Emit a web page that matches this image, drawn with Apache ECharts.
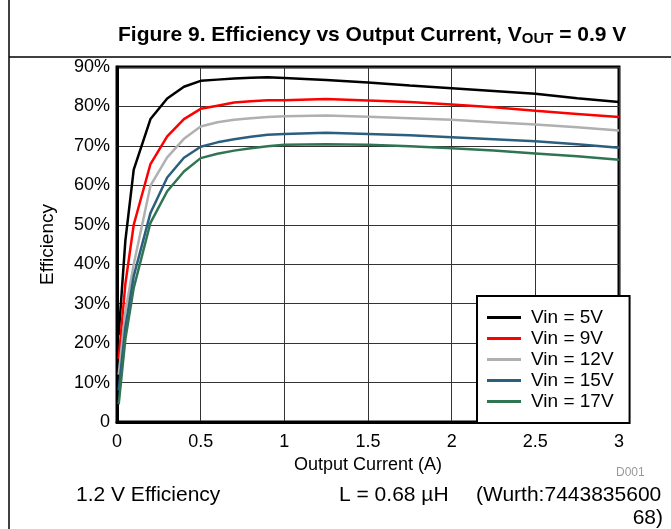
<!DOCTYPE html>
<html>
<head>
<meta charset="utf-8">
<style>html,body{margin:0;padding:0;background:#fff}#c{width:671px;height:529px}</style>
<script src="https://cdn.jsdelivr.net/npm/echarts@6/dist/echarts.min.js"></script>
</head>
<body>
<div id="c"></div>
<script>
var current = [0.01, 0.05, 0.1, 0.2, 0.3, 0.4, 0.5, 0.6, 0.7, 0.8, 0.9, 1.0, 1.25, 1.5, 1.75, 2.0, 2.25, 2.5, 2.75, 3.0];
var vin5  = [22, 46, 64, 76.8, 82, 85, 86.5, 86.8, 87.1, 87.3, 87.4, 87.2, 86.7, 86.1, 85.3, 84.6, 83.9, 83.2, 82.1, 81.1];
var vin9  = [16, 35, 50, 65.4, 72.4, 76.8, 79.4, 80.2, 81, 81.3, 81.6, 81.6, 81.9, 81.5, 81.1, 80.5, 79.8, 78.9, 78.1, 77.3];
var vin12 = [12, 28, 40, 59.9, 67.1, 71.8, 74.9, 76, 76.6, 77, 77.3, 77.5, 77.7, 77.4, 77.0, 76.6, 76.0, 75.4, 74.7, 73.9];
var vin15 = [8, 24, 37, 53, 62, 67, 69.8, 70.9, 71.7, 72.3, 72.8, 73, 73.3, 73, 72.7, 72.2, 71.7, 71.2, 70.4, 69.5];
var vin17 = [4.5, 21, 34, 50.5, 58.5, 63.5, 66.9, 68, 68.8, 69.4, 69.9, 70.3, 70.4, 70.3, 69.9, 69.4, 68.8, 68.1, 67.4, 66.5];
var seriesNames = ['Vin = 5V', 'Vin = 9V', 'Vin = 12V', 'Vin = 15V', 'Vin = 17V'];
var seriesValues = [vin5, vin9, vin12, vin15, vin17];
var colors = ['#000000', '#ff0000', '#b0b0b0', '#2b5f7f', '#2f7553'];
var xTicks = [0, 0.5, 1, 1.5, 2, 2.5, 3];
var yTicks = [0, 10, 20, 30, 40, 50, 60, 70, 80, 90];

var FONT = 'Liberation Sans, Arial, sans-serif';
var chart = echarts.init(document.getElementById('c'), null, {renderer: 'canvas'});

function pairs(vals) {
  return current.map(function (x, i) { return [x, vals[i]]; });
}

var option = {
  animation: false,
  backgroundColor: '#fff',
  textStyle: {fontFamily: FONT, color: '#000'},
  grid: {left: 117, right: 52, top: 67, bottom: 107, show: true, borderColor: '#000', borderWidth: 3, backgroundColor: 'transparent'},
  xAxis: {
    type: 'value', min: 0, max: 3, interval: 0.5,
    name: 'Output Current (A)', nameLocation: 'middle', nameGap: 34,
    nameTextStyle: {fontFamily: FONT, fontSize: 18, color: '#000'},
    axisLine: {show: true, lineStyle: {color: '#000', width: 3}},
    axisTick: {show: false},
    axisLabel: {fontFamily: FONT, fontSize: 18, color: '#000', margin: 11,
      formatter: function (v) { return xTicks.indexOf(v) >= 0 ? String(v) : ''; }},
    splitLine: {show: true, lineStyle: {color: '#333', width: 1}}
  },
  yAxis: {
    type: 'value', min: 0, max: 90, interval: 10,
    name: 'Efficiency', nameLocation: 'middle', nameGap: 60, nameRotate: 90,
    nameTextStyle: {fontFamily: FONT, fontSize: 19, color: '#000'},
    axisLine: {show: true, lineStyle: {color: '#000', width: 3}},
    axisTick: {show: false},
    axisLabel: {fontFamily: FONT, fontSize: 18, color: '#000', margin: 7,
      formatter: function (v) { return yTicks.indexOf(v) < 0 ? '' : (v === 0 ? '0' : v + '%'); }},
    splitLine: {show: true, lineStyle: {color: '#333', width: 1}}
  },
  legend: {
    orient: 'vertical', left: 477, top: 296,
    data: seriesNames,
    icon: 'rect', itemWidth: 34, itemHeight: 3, itemGap: 2,
    padding: [12, 16, 12, 10],
    backgroundColor: '#fff', borderColor: '#000', borderWidth: 2,
    textStyle: {fontFamily: FONT, fontSize: 19, color: '#000', padding: [0, 0, 0, 5]}
  },
  series: seriesNames.map(function (n, i) {
    return {
      name: n, type: 'line', data: pairs(seriesValues[i]),
      showSymbol: false, symbol: 'none', smooth: false,
      lineStyle: {color: colors[i], width: 2.5},
      itemStyle: {color: colors[i]},
      z: 2
    };
  }),
  graphic: [
    {type: 'line', shape: {x1: 9, y1: 0, x2: 9, y2: 529}, style: {stroke: '#000', lineWidth: 1.5}, silent: true},
    {type: 'line', shape: {x1: 9, y1: 57, x2: 671, y2: 57}, style: {stroke: '#000', lineWidth: 1.5}, silent: true},
    {type: 'text', left: 118, top: 24, style: {
      text: '{m|Figure 9. Efficiency vs Output Current, V}{s|OUT}{m| = 0.9 V}',
      rich: {
        m: {fontFamily: FONT, fontSize: 21, fontWeight: 'bold', fill: '#000', lineHeight: 24, verticalAlign: 'bottom'},
        s: {fontFamily: FONT, fontSize: 15, fontWeight: 'bold', fill: '#000', lineHeight: 24, verticalAlign: 'bottom', padding: [7, 0, 0, 0]}
      }
    }, silent: true},
    {type: 'text', left: 616, top: 467, style: {text: 'D001', fontFamily: FONT, fontSize: 12, fill: '#999'}, silent: true},
    {type: 'text', left: 76, top: 485, style: {text: '1.2 V Efficiency', fontFamily: FONT, fontSize: 21, fill: '#000'}, silent: true},
    {type: 'text', left: 339, top: 485, style: {text: 'L = 0.68 µH', fontFamily: FONT, fontSize: 21, fill: '#000'}, silent: true},
    {type: 'text', left: 476, top: 485, style: {text: '(Wurth:7443835600', fontFamily: FONT, fontSize: 21, fill: '#000'}, silent: true},
    {type: 'text', right: 8, top: 508, style: {text: '68)', fontFamily: FONT, fontSize: 21, fill: '#000'}, silent: true}
  ]
};
chart.setOption(option);
</script>
</body>
</html>
